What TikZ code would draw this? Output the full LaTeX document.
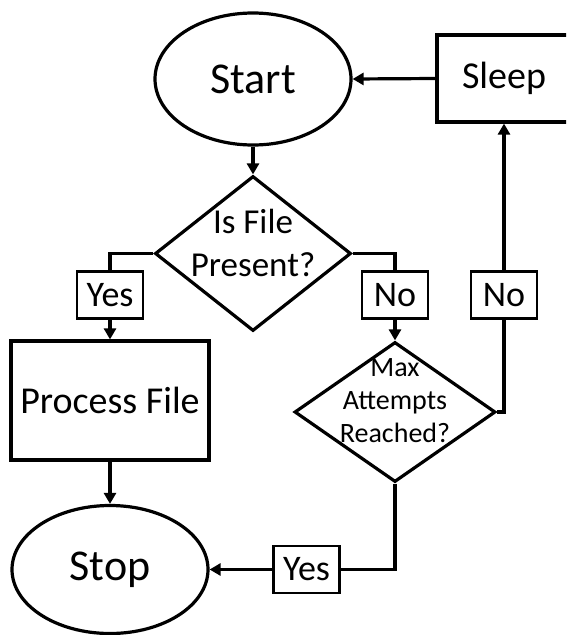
\documentclass[tikz,border=0pt]{standalone}
\usepackage{fontspec}
\setmainfont{Carlito}
\usetikzlibrary{shapes.geometric,arrows.meta}
\begin{document}
\begin{tikzpicture}[x=1pt,y=-1pt,
  shapeline/.style={draw=black, line width=3.2pt, fill=white},
  term/.style={shapeline, ellipse, minimum width=196pt, minimum height=132pt, inner sep=0pt, font=\fontsize{44}{50}\selectfont},
  proc/.style={shapeline, rectangle, inner sep=0pt, font=\fontsize{38}{44}\selectfont},
  dec/.style={shapeline, diamond, inner sep=0pt},
  tag/.style={draw=black, line width=2.6pt, fill=white, minimum width=66pt, minimum height=47pt, inner sep=0pt, font=\fontsize{36}{40}\selectfont},
  conn/.style={line width=3.2pt, -{Triangle[length=11pt,width=12pt]}},
  link/.style={line width=3.2pt}
]
\useasboundingbox (0,0) rectangle (566,635);
\fill[white] (0,0) rectangle (566,635);
\clip (0,0) rectangle (566,635);

\node[term] (start) at (253,79) {Start};
\node[proc, minimum width=134pt, minimum height=87pt] (sleep) at (504,78.5) {Sleep};
\node[dec, minimum width=196pt, minimum height=155pt,
  label={[font=\fontsize{35}{43}\selectfont, align=center, yshift=11pt]center:Is File\\Present?}] (d1) at (253,253.5) {};
\node[proc, minimum width=198pt, minimum height=119pt] (proc) at (110,400.5) {Process File};
\node[dec, minimum width=201pt, minimum height=140pt,
  label={[font=\fontsize{28}{33}\selectfont, align=center, yshift=11pt]center:Max\\Attempts\\Reached?}] (d2) at (395,412) {};
\node[term, minimum height=128pt] (stop) at (110,569.5) {Stop};

\node[tag] (yes1) at (110,295) {Yes};
\node[tag] (no1) at (395,295) {No};
\node[tag] (no2) at (504,295) {No};
\node[tag] (yes2) at (306.5,569.5) {Yes};

\draw[conn] (sleep.west) -- (start.east);
\draw[conn] (start.south) -- (d1.north);
\draw[link] (d1.west) -| (yes1.north);
\draw[conn] (yes1.south) -- (proc.north);
\draw[link] (d1.east) -| (no1.north);
\draw[conn] (no1.south) -- (d2.north);
\draw[link] (d2.east) -| (no2.south);
\draw[conn] (no2.north) -- (sleep.south);
\draw[link] (d2.south) |- (yes2.east);
\draw[conn] (yes2.west) -- (stop.east);
\draw[conn] (proc.south) -- (stop.north);
\end{tikzpicture}
\end{document}
